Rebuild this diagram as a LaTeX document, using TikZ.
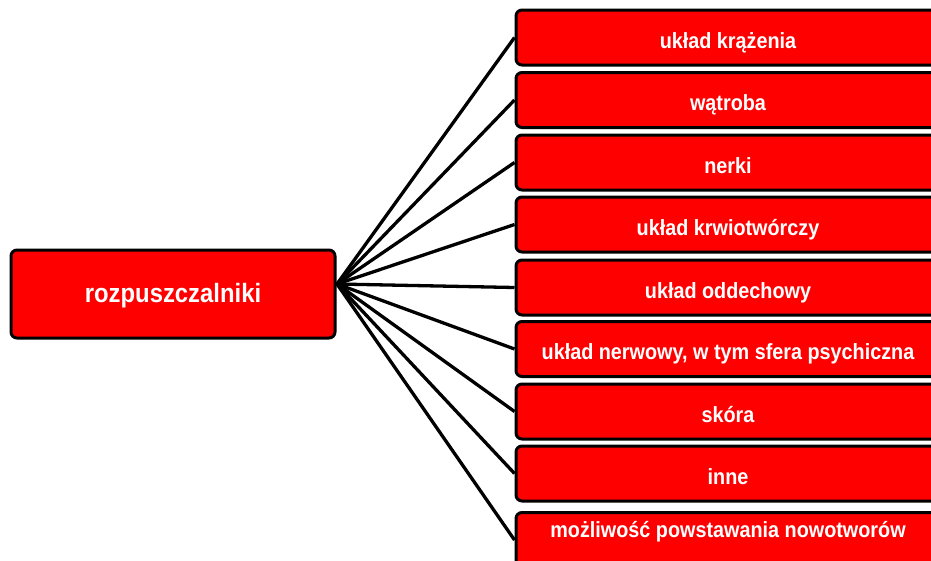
\documentclass[tikz,border=0pt]{standalone}
\usepackage{fontspec}
\setmainfont[FakeStretch=0.9]{Liberation Sans}
\usepackage{xcolor}
\usepackage{tikz}

\begin{document}
\begin{tikzpicture}[x=1pt,y=1pt,
		box/.style={draw=black, line width=3pt, fill=red, rounded corners=6pt, text=white, font=\bfseries\fontsize{22}{26}\selectfont, text height=21pt, text depth=0pt, minimum width=424pt, minimum height=55pt, inner sep=0pt},
		srcbox/.style={box, font=\bfseries\fontsize{26.5}{30}\selectfont, text height=16pt, minimum width=324pt, minimum height=88pt},
		link/.style={line width=3.3pt}]
			\useasboundingbox (0,0) rectangle (931,-560);
			\clip (0,0) rectangle (931,-560);
			\node[srcbox] (src) at (173,-294) {rozpuszczalniki};
			\coordinate (hub) at (337,-284);
			\node[box] (r1) at (728,-37.5) {układ krążenia};
			\node[box] (r2) at (728,-100) {wątroba};
			\node[box] (r3) at (728,-162.5) {nerki};
			\node[box] (r4) at (728,-224.5) {układ krwiotwórczy};
			\node[box] (r5) at (728,-287.5) {układ oddechowy};
			\node[box] (r6) at (728,-349) {układ nerwowy, w tym sfera psychiczna};
			\node[box] (r7) at (728,-411.5) {skóra};
			\node[box] (r8) at (728,-473.5) {inne};
			\node[box, text height=0pt, text depth=6pt] (r9) at (728,-540) {możliwość powstawania nowotworów};
			\foreach \i in {1,...,9}
				\draw[link] (hub) -- (r\i.west);
		\end{tikzpicture}
\end{document}
